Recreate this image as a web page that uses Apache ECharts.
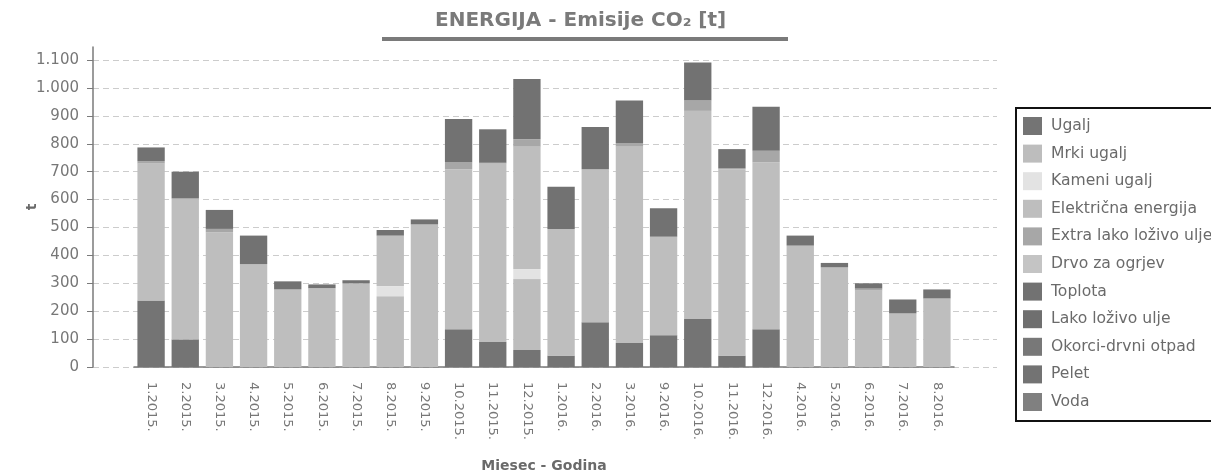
<!DOCTYPE html>
<html>
<head>
<meta charset="utf-8">
<script src="https://cdn.jsdelivr.net/npm/echarts@6/dist/echarts.min.js"></script>
<style>
html,body{margin:0;padding:0;background:#fff;}
#chart{width:1211px;height:473px;}
</style>
</head>
<body>
<div id="chart"></div>
<script>
const categories = ['1.2015.','2.2015.','3.2015.','4.2015.','5.2015.','6.2015.','7.2015.','8.2015.','9.2015.','10.2015.','11.2015.','12.2015.','1.2016.','2.2016.','3.2016.','9.2016.','10.2016.','11.2016.','12.2016.','4.2016.','5.2016.','6.2016.','7.2016.','8.2016.'];
const yTicks = [0,100,200,300,400,500,600,700,800,900,1000,1100];

const ugalj       = [238, 99,  0,  0,  0,  0,  0,  0,  0,135, 90, 61, 41,160, 86,114,172, 41,135,  0,  0,  0,  0,  0];
const mrkiUgalj   = [  0,  0,  0,  0,  0,  0,  0,254,  0,  0,  0,254,  0,  0,  0,  0,  0,  0,  0,  0,  0,  0,  0,  0];
const kameniUgalj = [  0,  0,  0,  0,  0,  0,  0, 36,  0,  0,  0, 36,  0,  0,  0,  0,  0,  0,  0,  0,  0,  0,  0,  0];
const elektricna  = [492,503,483,369,278,281,300,181,511,574,639,439,454,549,704,353,746,668,599,435,357,274,192,246];
const extraLako   = [  8,  3, 12,  0,  0,  2,  0,  0,  0, 25,  3, 26,  0,  0, 13,  0, 37,  3, 41,  0,  0,  7,  0,  0];
const drvo        = [  0,  0,  0,  0,  0,  0,  0,  0,  0,  0,  0,  0,  0,  0,  0,  0,  0,  0,  0,  0,  0,  0,  0,  0];
const toplota     = [ 49, 95, 68,102, 29, 13, 11, 20, 18,155,120,216,151,151,152,102,136, 69,158, 36, 16, 19, 50, 32];
const lakoUlje    = [  0,  0,  0,  0,  0,  0,  0,  0,  0,  0,  0,  0,  0,  0,  0,  0,  0,  0,  0,  0,  0,  0,  0,  0];
const okorci      = [  0,  0,  0,  0,  0,  0,  0,  0,  0,  0,  0,  0,  0,  0,  0,  0,  0,  0,  0,  0,  0,  0,  0,  0];
const pelet       = [  0,  0,  0,  0,  0,  0,  0,  0,  0,  0,  0,  0,  0,  0,  0,  0,  0,  0,  0,  0,  0,  0,  0,  0];
const voda        = [  0,  0,  0,  0,  0,  0,  0,  0,  0,  0,  0,  0,  0,  0,  0,  0,  0,  0,  0,  0,  0,  0,  0,  0];

const seriesDefs = [
  ['Ugalj', ugalj, '#747474'],
  ['Mrki ugalj', mrkiUgalj, '#bdbdbd'],
  ['Kameni ugalj', kameniUgalj, '#e3e3e3'],
  ['Električna energija', elektricna, '#bebebe'],
  ['Extra lako loživo ulje', extraLako, '#a7a7a7'],
  ['Drvo za ogrjev', drvo, '#c4c4c4'],
  ['Toplota', toplota, '#727272'],
  ['Lako loživo ulje', lakoUlje, '#6f6f6f'],
  ['Okorci-drvni otpad', okorci, '#787878'],
  ['Pelet', pelet, '#737373'],
  ['Voda', voda, '#808080']
];

const FONT = 'DejaVu Sans';
const fmt = v => String(v).replace(/\B(?=(\d{3})+(?!\d))/g, '.');

const chart = echarts.init(document.getElementById('chart'), null, {renderer: 'canvas'});
chart.setOption({
  animation: false,
  backgroundColor: '#fff',
  title: {
    text: 'ENERGIJA - Emisije CO₂ [t]',
    left: 430, top: 6,
    textStyle: {fontFamily: FONT, fontSize: 20, fontWeight: 'bold', color: '#7a7a7a'}
  },
  graphic: [{type: 'rect', left: 382, top: 37, shape: {width: 406, height: 4}, style: {fill: '#7a7a7a'}}],
  legend: {
    orient: 'vertical', left: 1016, top: 108,
    padding: [9, 30, 10, 7],
    itemWidth: 19, itemHeight: 18, itemGap: 9.6,
    borderColor: '#111', borderWidth: 2,
    icon: 'rect',
    textStyle: {fontFamily: FONT, fontSize: 15.6, color: '#6a6a6a', padding: [0, 0, 0, 4]},
    data: seriesDefs.map(d => d[0])
  },
  grid: [
    {left: 93, right: 214, top: 47, bottom: 106, outerBoundsMode: 'none', containLabel: false},
    {left: 134, right: 257, top: 47, bottom: 106, outerBoundsMode: 'none', containLabel: false}
  ],
  xAxis: [
    {gridIndex: 0, type: 'value', min: 0, max: 1, show: false},
    {gridIndex: 1, type: 'category', data: categories, boundaryGap: true,
     name: 'Miesec - Godina', nameLocation: 'middle', nameGap: 92, nameMoveOverlap: false,
     nameTextStyle: {fontFamily: FONT, fontSize: 14, fontWeight: 'bold', color: '#6a6a6a'},
     axisLine: {lineStyle: {color: '#7a7a7a', width: 1.5}},
     axisTick: {alignWithLabel: true, length: 5, lineStyle: {color: '#7a7a7a'}},
     axisLabel: {rotate: -90, interval: 0, margin: 15, fontFamily: FONT, fontSize: 13, color: '#777'}}
  ],
  yAxis: [
    {gridIndex: 0, type: 'value', min: 0, max: 1147,
     name: 't', nameLocation: 'middle', nameGap: 54, nameRotate: 90, nameMoveOverlap: false,
     nameTextStyle: {fontFamily: FONT, fontSize: 14, fontWeight: 'bold', color: '#6a6a6a'},
     axisLine: {show: true, lineStyle: {color: '#7a7a7a', width: 1.5}},
     axisTick: {show: true, length: 6, customValues: yTicks, lineStyle: {color: '#7a7a7a'}},
     axisLabel: {customValues: yTicks, margin: 14, fontFamily: FONT, fontSize: 15, color: '#777', formatter: fmt},
     splitLine: {show: true, lineStyle: {color: '#cccccc', type: [6, 4], width: 1}}},
    {gridIndex: 1, type: 'value', min: 0, max: 1147, show: false, splitLine: {show: false}}
  ],
  series: seriesDefs.map(d => ({
    name: d[0], type: 'bar', stack: 'total', xAxisIndex: 1, yAxisIndex: 1,
    data: d[1], barWidth: '80%',
    itemStyle: {color: d[2]}
  }))
});
</script>
</body>
</html>
